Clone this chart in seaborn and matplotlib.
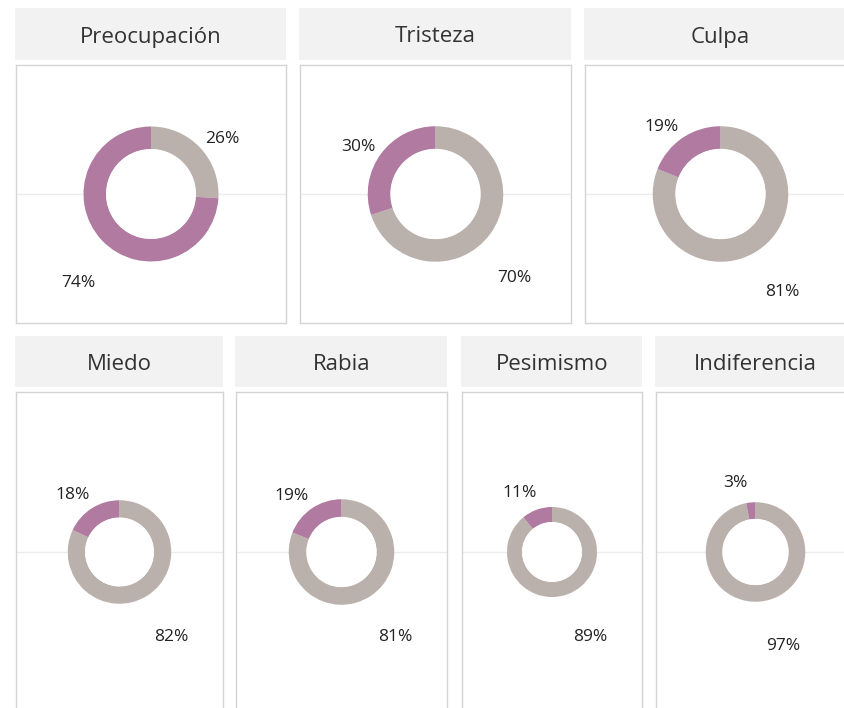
import numpy as np
import matplotlib
matplotlib.use("Agg")
import matplotlib.pyplot as plt
from matplotlib.patches import Rectangle, Circle
import seaborn as sns

# ---- data ----
categories = ["Preocupación", "Tristeza", "Culpa", "Miedo", "Rabia", "Pesimismo", "Indiferencia"]
si_pct = [74, 30, 19, 18, 19, 11, 3]      # purple share
no_pct = [26, 70, 81, 82, 81, 89, 97]     # grey share

sns.set_theme(style="white")
plt.rcParams['font.family'] = ['Open Sans', 'DejaVu Sans']
palette = sns.color_palette(["#bab0ac", "#b07aa1"])
GREY, PURPLE = palette[0], palette[1]

W, H = 844, 708
fig = plt.figure(figsize=(W / 100, H / 100), dpi=100)
fig.patch.set_facecolor("white")

# layout (pixels)
top_x = [(16, 286), (300, 571), (585, 856)]
bot_x = [(16, 223), (236, 447), (462, 642), (656, 855)]
rows = [((8, 60), (65, 323), top_x), ((336, 387), (392, 712), bot_x)]

panels = []
for (hy, by, xs) in rows:
    for xr in xs:
        panels.append((xr, hy, by))


def frect(x0, y0, x1, y1):
    return [x0 / W, 1 - y1 / H, (x1 - x0) / W, (y1 - y0) / H]


for i, (cat, si, no) in enumerate(zip(categories, si_pct, no_pct)):
    (x0, x1), (hy0, hy1), (by0, by1) = panels[i]
    # header band
    r = frect(x0 - 1, hy0, x1, hy1)
    fig.add_artist(Rectangle((r[0], r[1]), r[2], r[3], transform=fig.transFigure,
                             facecolor="#f2f2f2", edgecolor="none", zorder=0))
    fig.text((x0 + x1) / 2 / W, 1 - ((hy0 + hy1) / 2 + 3) / H, cat, ha="center", va="center",
             fontsize=16, color="#333333")

    ax = fig.add_axes(frect(x0, by0, x1, by1))
    w_px, h_px = x1 - x0, by1 - by0
    unit = w_px / 4.0
    ax.set_xticks([]); ax.set_yticks([])
    for s in ax.spines.values():
        s.set_color("#d4d4d4"); s.set_linewidth(1.0); s.set_visible(True)
    ax.axhline(0, color="#ececec", lw=1.0, zorder=0)

    vals = [no, si]
    ax.pie(vals, colors=[GREY, PURPLE], startangle=90, counterclock=False, radius=1.0,
           wedgeprops=dict(width=1 / 3, linewidth=0), frame=True)
    ax.add_patch(Circle((0, 0), 2 / 3 - 0.005, facecolor="white", edgecolor="none", zorder=3))
    ax.set_xlim(-2, 2)
    ax.set_ylim(-h_px / unit / 2, h_px / unit / 2)
    ax.set_aspect("auto")

    # labels (angles measured clockwise from 12 o'clock)
    start = 0.0
    for v in vals:
        mid = (start + v / 2) / 100 * 360
        start += v
        right = mid < 180
        if v >= 50:
            target = 150 if right else 210
            ang = mid + 0.45 * (target - mid)
            off = 48
        else:
            target = 90 if right else 270
            ang = mid + 0.13 * (target - mid)
            off = 22
        a = np.deg2rad(ang)
        d = 1 + off / unit
        ax.text(d * np.sin(a), d * np.cos(a), f"{v}%", ha="center", va="center",
                fontsize=12.5, color="#222222")

fig.savefig("out.png", dpi=100, facecolor="white")
